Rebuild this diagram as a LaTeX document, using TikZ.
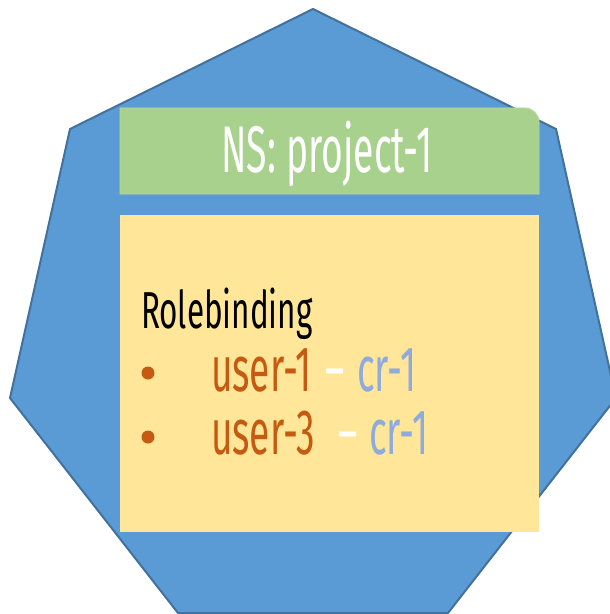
\documentclass[tikz,border=0pt]{standalone}
\usepackage{fontspec}
\newfontfamily\agencytitle[FakeStretch=0.565]{Fira Sans}
\newfontfamily\agencyhead[FakeStretch=0.605]{Fira Sans}
\newfontfamily\agencyitem[FakeStretch=0.58]{Fira Sans}
\definecolor{hexfill}{HTML}{5B9BD5}
\definecolor{hexline}{HTML}{41719C}
\definecolor{nsgreen}{HTML}{A9D18E}
\definecolor{nsgreenline}{HTML}{B5D89C}
\definecolor{rbyellow}{HTML}{FFE699}
\definecolor{userorange}{HTML}{C55A11}
\definecolor{crblue}{HTML}{8FAADC}
\begin{document}
\begin{tikzpicture}[x=1bp,y=-1bp,
  lbl/.style={inner sep=0pt,outer sep=0pt},
  titletext/.style={lbl,text=white,font=\agencytitle\fontsize{66bp}{68bp}\selectfont},
  headtext/.style={lbl,text=black,font=\agencyhead\fontsize{52bp}{54bp}\selectfont},
  itemtext/.style={lbl,text=userorange,font=\agencyitem\fontsize{64bp}{66bp}\selectfont},
  crtext/.style={itemtext,text=crblue},
  dashtext/.style={itemtext,text=white},
  bulletdot/.style={circle,fill=userorange,inner sep=0pt,minimum size=13bp}]
\useasboundingbox (0,0) rectangle (610,614);
\clip (0,0) rectangle (610,614);
% heptagon
\draw[hexline,line width=2bp,fill=hexfill,line join=miter]
  (313,9) -- (556,129) -- (616,398) -- (448,613) -- (178,613) -- (10,398) -- (70,129) -- cycle;
% namespace tab
\draw[nsgreenline,line width=0.8bp,fill=nsgreen]
  (120,194) -- (120,108) -- (525,108) .. controls (532.7,108) and (539,114.3) .. (539,122) -- (539,194) -- cycle;
% rolebinding box
\fill[rbyellow] (120,215) rectangle (539,532);
% texts
\node[titletext,anchor=base] (title) at (327,173) {NS: project-1};
\node[headtext,anchor=base west] (head) at (141,328) {Rolebinding};
\node[bulletdot] (b1) at (148,373) {};
\node[bulletdot] (b2) at (148,437) {};
\node[itemtext,anchor=base west] (user1) at (211,391) {user-1};
\node[dashtext,anchor=base] (dash1) at (335.5,391) {–};
\node[crtext,anchor=base west] (cr1) at (357,391) {cr-1};
\node[itemtext,anchor=base west] (user3) at (211,454) {user-3};
\node[dashtext,anchor=base] (dash2) at (348,454) {–};
\node[crtext,anchor=base west] (cr2) at (369,454) {cr-1};
\end{tikzpicture}
\end{document}
